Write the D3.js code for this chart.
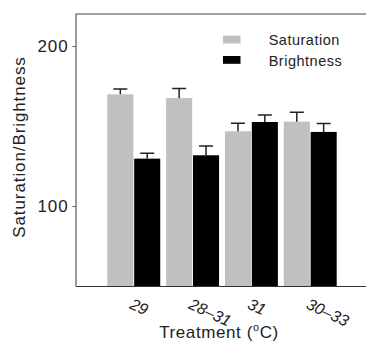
<!DOCTYPE html>
<html>
<head>
<meta charset="utf-8">
<script src="https://cdn.jsdelivr.net/npm/d3@7/dist/d3.min.js"></script>
<style>
  body { margin: 0; background: #fff; }
  svg { display: block; font-family: "Liberation Sans", Arial, sans-serif; }
</style>
</head>
<body>
<div class="chart"></div>
<script>
const width = 366;
const height = 343;
const margin = { top: 14, right: 0, bottom: 57, left: 75.5 };

// data
const treatments = ["29", "28–31", "31", "30–33"];
const seriesNames = ["Saturation", "Brightness"];
const saturation = [169.8, 167.5, 146.7, 152.7];
const saturationSE = [3.3, 6.0, 5.0, 5.9];
const brightness = [129.6, 131.7, 152.5, 146.3];
const brightnessSE = [3.3, 5.8, 4.4, 5.3];
const yTicks = [100, 200];
const colors = ["#c0c0c0", "#000000"];

const rows = treatments.map((t, i) => ({
    treatment: t,
    values: [
        { key: "Saturation", value: saturation[i], se: saturationSE[i] },
        { key: "Brightness", value: brightness[i], se: brightnessSE[i] }
    ]
}));

const svg = d3.select("div.chart")
    .append("svg")
    .attr("width", width)
    .attr("height", height);

const y = d3.scaleLinear()
    .domain([50, 220])
    .range([height - margin.bottom, margin.top]);

const x = d3.scaleBand()
    .domain(treatments)
    .range([107.3, 336.7])
    .paddingInner(0.1)
    .paddingOuter(0);

const xSub = d3.scaleBand()
    .domain(seriesNames)
    .range([0, x.bandwidth()])
    .paddingInner(0.03);

const color = d3.scaleOrdinal().domain(seriesNames).range(colors);

// bars
const groups = svg.append("g")
    .selectAll("g")
    .data(rows)
    .join("g")
    .attr("transform", d => `translate(${x(d.treatment)},0)`);

groups.selectAll("rect")
    .data(d => d.values)
    .join("rect")
    .attr("x", d => xSub(d.key))
    .attr("y", d => y(d.value))
    .attr("width", xSub.bandwidth())
    .attr("height", d => y(50) - y(d.value))
    .attr("fill", d => color(d.key));

// error bars (upper only)
const capHalf = 7;
groups.selectAll("path.err")
    .data(d => d.values)
    .join("path")
    .attr("class", "err")
    .attr("fill", "none")
    .attr("stroke", "#222")
    .attr("stroke-width", 1.5)
    .attr("d", d => {
        const cx = xSub(d.key) + xSub.bandwidth() / 2;
        const top = y(d.value + d.se);
        return `M${cx},${y(d.value)}V${top}M${cx - capHalf},${top}H${cx + capHalf}`;
    });

// y axis
svg.append("g")
    .attr("transform", `translate(${margin.left},0)`)
    .call(d3.axisLeft(y).tickValues(yTicks).tickSize(3).tickPadding(4).tickSizeOuter(0))
    .call(g => g.select(".domain").attr("stroke", "#333"))
    .call(g => g.selectAll(".tick line").attr("stroke", "#555"))
    .call(g => g.selectAll(".tick text")
        .attr("font-size", 17)
        .attr("letter-spacing", 0.9)
        .attr("fill", "#222")
        .attr("font-family", "Liberation Sans, Arial, sans-serif"));

// bottom and top frame lines
svg.append("g")
    .attr("transform", `translate(0,${y(50)})`)
    .call(d3.axisBottom(d3.scaleLinear().range([margin.left, width])).ticks(0).tickSizeOuter(0))
    .call(g => g.select(".domain").attr("stroke", "#333"));

svg.append("line")
    .attr("x1", margin.left).attr("x2", width)
    .attr("y1", y(220)).attr("y2", y(220))
    .attr("stroke", "#444");

// x tick labels, tilted
svg.append("g")
    .selectAll("text")
    .data(treatments)
    .join("text")
    .attr("transform", d => `translate(${x(d) + x.bandwidth() / 2 - 5},${y(50) + 22}) rotate(25)`)
    .attr("font-size", 16)
    .attr("font-style", "italic")
    .attr("fill", "#222")
    .text(d => d);

// axis titles
svg.append("text")
    .attr("transform", `translate(25,147) rotate(-90)`)
    .attr("text-anchor", "middle")
    .attr("font-size", 17)
    .attr("letter-spacing", 0.9)
    .attr("fill", "#222")
    .text("Saturation/Brightness");

const xTitle = svg.append("text")
    .attr("x", 219)
    .attr("y", 338)
    .attr("text-anchor", "middle")
    .attr("font-size", 17)
    .attr("letter-spacing", 0.6)
    .attr("fill", "#222");
xTitle.append("tspan").text("Treatment  (");
xTitle.append("tspan").attr("font-size", 11).attr("dy", -7).text("o");
xTitle.append("tspan").attr("dy", 7).text("C)");

// legend
const legend = svg.append("g")
    .selectAll("g")
    .data(seriesNames)
    .join("g")
    .attr("transform", (d, i) => `translate(223,${35.7 + i * 20.3})`);

legend.append("rect")
    .attr("width", 17.5)
    .attr("height", 7.8)
    .attr("fill", d => color(d));

legend.append("text")
    .attr("x", 45.7)
    .attr("y", 9.5)
    .attr("font-size", 14.5)
    .attr("letter-spacing", 0.5)
    .attr("fill", "#222")
    .text(d => d);
</script>
</body>
</html>
